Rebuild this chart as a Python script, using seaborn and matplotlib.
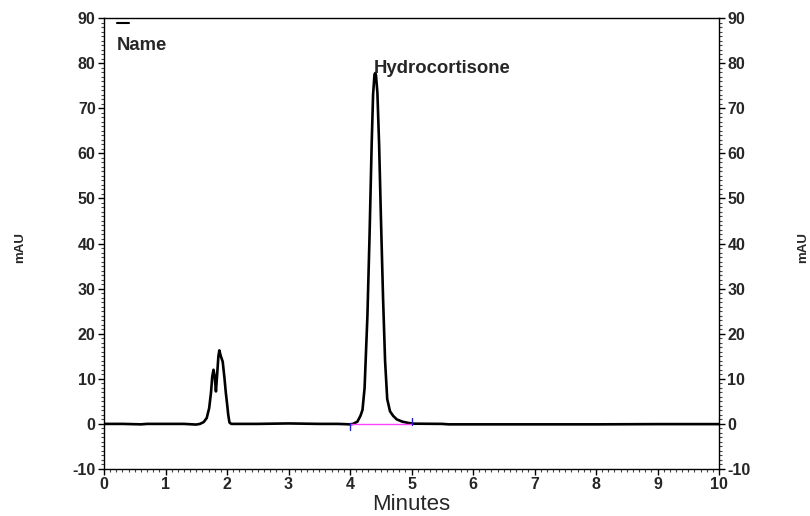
import matplotlib
matplotlib.use("Agg")
import matplotlib.pyplot as plt
from matplotlib.ticker import MultipleLocator
import seaborn as sns
import pandas as pd

# Chromatogram trace (minutes, mAU)
time_min = [0.0, 0.3, 0.6, 0.7, 1.0, 1.3, 1.5, 1.56, 1.62, 1.67, 1.71, 1.74, 1.76, 1.78,
            1.80, 1.82, 1.84, 1.86, 1.875, 1.90, 1.93, 1.96, 1.98, 2.00, 2.02, 2.04, 2.07,
            2.3, 2.5, 3.0, 3.5, 3.8, 4.0, 4.05, 4.12, 4.17, 4.203, 4.237, 4.283, 4.318,
            4.352, 4.375, 4.398, 4.41, 4.422, 4.445, 4.473, 4.502, 4.537, 4.57, 4.605,
            4.65, 4.70, 4.76, 4.85, 4.95, 5.03, 5.5, 5.6, 6.0, 7.0, 8.0, 9.0, 10.0]
signal_mau = [0.0, 0.0, -0.1, 0.0, 0.0, 0.0, -0.15, 0.0, 0.4, 1.3, 3.5, 7.0, 10.5, 12.0,
              10.5, 7.2, 11.0, 15.0, 16.3, 15.0, 13.8, 10.0, 7.0, 4.6, 2.0, 0.3, 0.0,
              0.0, 0.0, 0.1, 0.0, 0.0, -0.1, 0.0, 0.5, 1.8, 3.1, 8.0, 24.0, 42.0,
              62.0, 73.0, 77.5, 77.8, 77.3, 73.5, 62.0, 46.0, 28.0, 14.0, 5.5,
              2.8, 1.8, 1.0, 0.5, 0.2, 0.05, 0.0, -0.1, -0.1, -0.1, -0.1, -0.05, -0.05]

peak_name = "Hydrocortisone"
peak_time = 4.41
peak_height = 77.8
baseline_start = 4.0
baseline_end = 5.0

x_ticks = [0, 1, 2, 3, 4, 5, 6, 7, 8, 9, 10]
y_ticks = [-10, 0, 10, 20, 30, 40, 50, 60, 70, 80, 90]

sns.set_style("white")
plt.rcParams["font.family"] = ["Liberation Sans", "DejaVu Sans"]
plt.rcParams["axes.unicode_minus"] = False

fig = plt.figure(figsize=(8.1, 5.16), dpi=100)
ax = fig.add_axes([0.1284, 0.0911, 0.7593, 0.874])

df = pd.DataFrame({"Minutes": time_min, "mAU": signal_mau})
sns.lineplot(data=df, x="Minutes", y="mAU", ax=ax, color="black", linewidth=1.9)

# integration baseline and markers
ax.plot([baseline_start, baseline_end], [0.05, 0.05], color="#ff44ff", linewidth=1.0)
ax.plot([baseline_start, baseline_start], [0.2, -1.3], color="#2222cc", linewidth=1.0)
ax.plot([baseline_end, baseline_end], [1.3, -0.2], color="#2222cc", linewidth=1.0)

ax.text(peak_time - 0.02, peak_height - 0.8, peak_name, ha="left", va="bottom",
        fontsize=13.3, fontweight="bold")

# "Name" legend-like header
ax.plot([0.21, 0.41], [89.0, 89.0], color="black", linewidth=1.5)
ax.text(0.20, 84.0, "Name", ha="left", va="center", fontsize=13.3, fontweight="bold")

ax.set_xlim(0, 10)
ax.set_ylim(-10, 90)
ax.set_xticks(x_ticks)
ax.set_yticks(y_ticks)
ax.xaxis.set_minor_locator(MultipleLocator(0.1))
ax.yaxis.set_minor_locator(MultipleLocator(1))

for s in ax.spines.values():
    s.set_color("black")
    s.set_linewidth(1.0)

ax.tick_params(axis="both", which="major", direction="out", length=4, width=1,
               color="black", labelsize=11.5, pad=2)
ax.tick_params(axis="both", which="minor", direction="out", length=2, width=0.8,
               color="#444444")
ax.tick_params(axis="y", which="both", left=True, right=True, labelleft=True, labelright=True)
ax.tick_params(axis="x", which="both", bottom=True, top=False)
for tk in ax.xaxis.get_major_ticks():
    tk.label1.set_fontweight("bold")
for tk in ax.yaxis.get_major_ticks():
    tk.label1.set_fontweight("bold")
    tk.label2.set_fontweight("bold")

ax.set_xlabel("Minutes", fontsize=16, labelpad=1)
ax.set_ylabel("")
fig.text(0.025, 0.521, "mAU", rotation=90, ha="center", va="center",
         fontsize=9.5, fontweight="bold")
fig.text(0.991, 0.521, "mAU", rotation=90, ha="center", va="center",
         fontsize=9.5, fontweight="bold")

fig.savefig("out.png", dpi=100)
